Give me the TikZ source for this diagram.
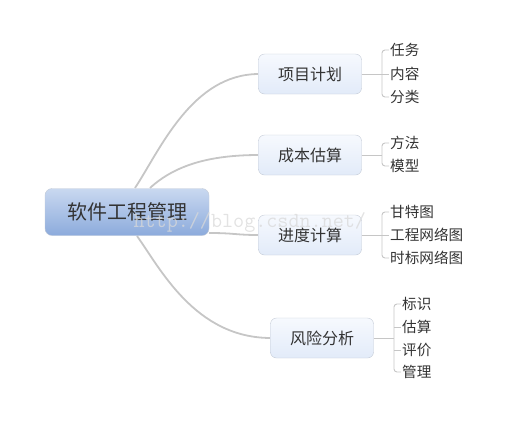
\documentclass[tikz,border=0pt]{standalone}
\usepackage{fontspec}
\usepackage{tikz}
\newfontfamily\cjk{Noto Sans CJK SC}
\definecolor{rootTop}{HTML}{C9D8F0}
\definecolor{rootBot}{HTML}{8CABDC}
\definecolor{boxTop}{HTML}{F6F9FE}
\definecolor{boxBot}{HTML}{E2EBF9}
\definecolor{edge}{HTML}{C6C6C6}
\definecolor{rim}{HTML}{C3CAD6}
\definecolor{ink}{HTML}{333333}

\begin{document}
\begin{tikzpicture}[x=1pt,y=-1pt,
    root/.style={rounded corners=7pt,draw=rim,top color=rootTop,bottom color=rootBot,
      minimum width=164pt,minimum height=47pt,text=ink,font=\cjk\fontsize{20}{20}\selectfont},
    topic/.style={rounded corners=6pt,draw=rim,top color=boxTop,bottom color=boxBot,
      minimum width=103pt,minimum height=40pt,text=ink,font=\cjk\fontsize{16}{16}\selectfont},
    leaf/.style={anchor=west,inner sep=1pt,text=ink,font=\cjk\fontsize{14.6}{14.6}\selectfont},
    link/.style={draw=edge,line width=1.8pt},
    twig/.style={draw=edge,line width=0.9pt,rounded corners=3pt}]
      \useasboundingbox (0,0) rectangle (512,424);
      \draw[link] (135,188) .. controls (160,150) and (192,74) .. (259,74);
      \draw[link] (150,188) .. controls (175,165) and (210,155) .. (259,155);
      \draw[link] (209,233) .. controls (235,233) and (235,235) .. (259,235);
      \draw[link] (137,236) .. controls (160,268) and (195,338) .. (271,338);
      \node[root] (R) at (127,212) {软件工程管理};
      \node[topic] (T1) at (310,74) {项目计划};
      \node[topic] (T2) at (310,155) {成本估算};
      \node[topic] (T3) at (310,235) {进度计算};
      \node[topic] (T4) at (322,338) {风险分析};
      \node[leaf] (L11) at (389,50) {任务};
      \node[leaf] (L12) at (389,74) {内容};
      \node[leaf] (L13) at (389,97) {分类};
      \node[leaf] (L21) at (389,143) {方法};
      \node[leaf] (L22) at (389,166) {模型};
      \node[leaf] (L31) at (389,212) {甘特图};
      \node[leaf] (L32) at (389,235) {工程网络图};
      \node[leaf] (L33) at (389,258) {时标网络图};
      \node[leaf] (L41) at (401,304) {标识};
      \node[leaf] (L42) at (401,327) {估算};
      \node[leaf] (L43) at (401,350) {评价};
      \node[leaf] (L44) at (401,372) {管理};
      \coordinate (B1) at (382,74);
      \coordinate (B2) at (382,155);
      \coordinate (B3) at (382,235);
      \coordinate (B4) at (394,338);
      \draw[twig] (T1.east) -- (L12.west);
      \draw[twig] (L11.west) -| (B1) |- (L13.west);
      \draw[twig] (T2.east) -- (B2);
      \draw[twig] (L21.west) -| (B2) |- (L22.west);
      \draw[twig] (T3.east) -- (L32.west);
      \draw[twig] (L31.west) -| (B3) |- (L33.west);
      \draw[twig] (T4.east) -- (B4);
      \draw[twig] (L41.west) -| (B4) |- (L44.west);
      \draw[twig] (B4 |- L42.west) -- (L42.west);
      \draw[twig] (B4 |- L43.west) -- (L43.west);
      \node[text=gray!30,opacity=0.75,font=\ttfamily\fontsize{21.5}{21.5}\selectfont,anchor=west] (W) at (130,222) {http://blog.csdn.net/};
\end{tikzpicture}
\end{document}
